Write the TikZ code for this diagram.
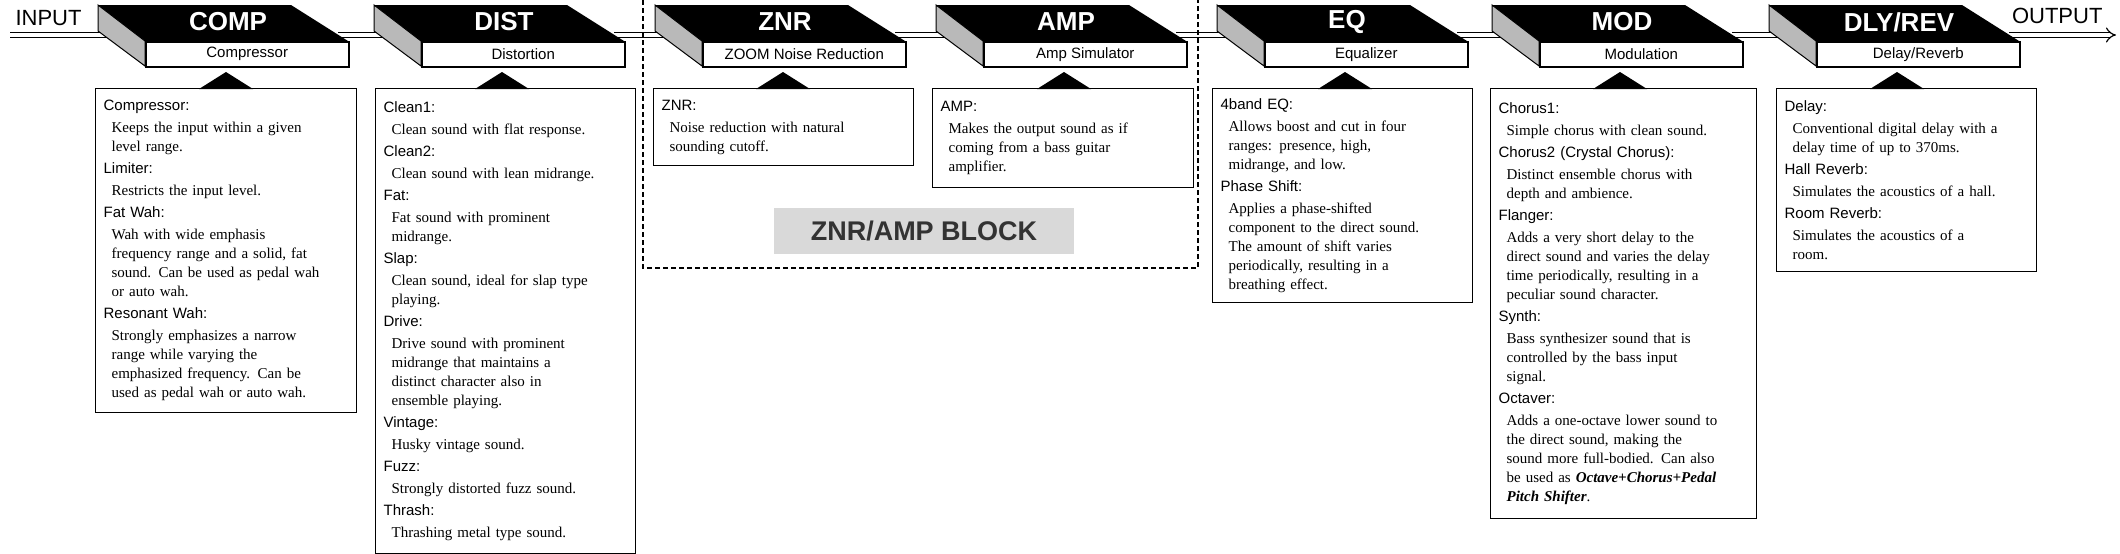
\documentclass[tikz,border=0pt]{standalone}
\usepackage{fontspec}
\setmainfont{Liberation Serif}
\setsansfont{Liberation Sans}
\usetikzlibrary{arrows.meta}

\newcommand{\hd}[1]{{\sffamily\fontsize{15}{19}\selectfont #1\par}\vspace{3pt}}
\newcommand{\bd}[1]{{\leftskip=8pt #1\par}\vspace{3pt}}

\begin{document}
\begin{tikzpicture}[x=1pt, y=-1pt,
    top/.style={fill=black},
    side/.style={fill=gray!55, draw=black, line width=1pt},
    sub/.style={draw, fill=white, line width=1.5pt, minimum width=203pt,
        minimum height=25pt, anchor=north west, inner sep=0pt,
        font=\sffamily\fontsize{15}{16}\selectfont},
    title/.style={text=white, font=\sffamily\bfseries\fontsize{26}{28}\selectfont},
    info/.style={draw, line width=1.2pt, anchor=north west, align=left,
        inner xsep=8pt, inner ysep=7pt,
        font=\rmfamily\fontsize{15}{19}\selectfont},
    flow/.style={double=white, double distance=4pt, line width=1.2pt,
        -{Implies[length=10pt]}},
    io/.style={font=\sffamily\fontsize{22}{24}\selectfont}
]
\useasboundingbox (0,0) rectangle (2120,554);

%%%%%%%%%%%%%%%%%%%%%%%%
% Connectors
%%%%%%%%%%%%%%%%%%%%%%%%
\foreach \n/\x in {comp/98, dist/374, znr/655, amp/936, eq/1217, mod/1492, dly/1769}{
    \coordinate (\n-in) at (\x+30,35);
    \coordinate (\n-out) at (\x+240,35);
}
\coordinate (in) at (10,35);
\coordinate (out) at (2116,35);

\draw[flow] (in) -- (comp-in);
\draw[flow] (comp-out) -- (dist-in);
\draw[flow] (dist-out) -- (znr-in);
\draw[flow] (znr-out) -- (amp-in);
\draw[flow] (amp-out) -- (eq-in);
\draw[flow] (eq-out) -- (mod-in);
\draw[flow] (mod-out) -- (dly-in);
\draw[flow] (dly-out) -- (out);

\node[io, anchor=south west] (input) at (12,29) {INPUT};
\node[io, anchor=south east] (output) at (2106,27) {OUTPUT};

%%%%%%%%%%%%%%%%%%%%%%%%
% Effect blocks
%%%%%%%%%%%%%%%%%%%%%%%%
\foreach \n/\x/\t/\s in {comp/98/COMP/Compressor, dist/374/DIST/Distortion,
    znr/655/ZNR/ZOOM Noise Reduction, amp/936/AMP/Amp Simulator,
    eq/1217/EQ/Equalizer, mod/1492/MOD/Modulation, dly/1769/DLY\slash REV/Delay\slash Reverb}{
    \fill[top] (\x,5) -- (\x+193,5) -- (\x+250,41) -- (\x+47,41) -- cycle;
    \draw[side] (\x,5) -- (\x+47,41) -- (\x+47,66) -- (\x,31) -- cycle;
    \node[sub] (\n-sub) at (\x+47,41) {\s};
    \node[title] (\n-title) at (\x+130,22) {\t};
}

%%%%%%%%%%%%%%%%%%%%%%%%
% ZNR/AMP group
%%%%%%%%%%%%%%%%%%%%%%%%
\draw[line width=2pt, dash pattern=on 5pt off 3pt] (643,0) -- (643,268) -- (1198,268) -- (1198,0);
\node[fill=gray!30, text=black!80, minimum width=300pt, minimum height=46pt,
      font=\sffamily\bfseries\fontsize{27}{28}\selectfont] (grp) at (924,231) {ZNR/AMP BLOCK};

%%%%%%%%%%%%%%%%%%%%%%%%
% Descriptions
%%%%%%%%%%%%%%%%%%%%%%%%
\node[info, minimum width=261pt, minimum height=324pt, text width=245pt] (comp-info) at (95,88) {%
\hd{Compressor:}
\bd{Keeps the input within a given\\level range.}
\hd{Limiter:}
\bd{Restricts the input level.}
\hd{Fat Wah:}
\bd{Wah with wide emphasis\\frequency range and a solid, fat\\sound. Can be used as pedal wah\\or auto wah.}
\hd{Resonant Wah:}
\bd{Strongly emphasizes a narrow\\range while varying the\\emphasized frequency. Can be\\used as pedal wah or auto wah.}};

\node[info, minimum width=260pt, minimum height=465pt, text width=244pt] (dist-info) at (375,88) {%
\hd{Clean1:}
\bd{Clean sound with flat response.}
\hd{Clean2:}
\bd{Clean sound with lean midrange.}
\hd{Fat:}
\bd{Fat sound with prominent\\midrange.}
\hd{Slap:}
\bd{Clean sound, ideal for slap type\\playing.}
\hd{Drive:}
\bd{Drive sound with prominent\\midrange that maintains a\\distinct character also in\\ensemble playing.}
\hd{Vintage:}
\bd{Husky vintage sound.}
\hd{Fuzz:}
\bd{Strongly distorted fuzz sound.}
\hd{Thrash:}
\bd{Thrashing metal type sound.}};

\node[info, minimum width=260pt, minimum height=77pt, text width=244pt] (znr-info) at (653,88) {%
\hd{ZNR:}
\bd{Noise reduction with natural\\sounding cutoff.}};

\node[info, minimum width=261pt, minimum height=99pt, text width=245pt] (amp-info) at (932,88) {%
\hd{AMP:}
\bd{Makes the output sound as if\\coming from a  bass guitar\\amplifier.}};

\node[info, minimum width=260pt, minimum height=214pt, text width=244pt] (eq-info) at (1212,88) {%
\hd{4band EQ:}
\bd{Allows boost and cut in four\\ranges: presence, high,\\midrange, and low.}
\hd{Phase Shift:}
\bd{Applies a phase-shifted\\component to the direct sound.\\The amount of shift varies\\periodically, resulting in a\\breathing effect.}};

\node[info, minimum width=266pt, minimum height=430pt, text width=250pt] (mod-info) at (1490,88) {%
\hd{Chorus1:}
\bd{Simple chorus with clean sound.}
\hd{Chorus2 (Crystal Chorus):}
\bd{Distinct ensemble chorus with\\depth and ambience.}
\hd{Flanger:}
\bd{Adds a very short delay to the\\direct sound and varies the delay\\time periodically, resulting in a\\peculiar sound character.}
\hd{Synth:}
\bd{Bass synthesizer sound that is\\controlled by the bass input\\signal.}
\hd{Octaver:}
\bd{Adds a one-octave lower sound to\\the direct sound, making the\\sound more full-bodied. Can also\\be used as \textbf{\textit{Octave+Chorus+Pedal}}\\\textbf{\textit{Pitch Shifter}}.}};

\node[info, minimum width=260pt, minimum height=183pt, text width=244pt] (dly-info) at (1776,88) {%
\hd{Delay:}
\bd{Conventional digital delay with a\\delay time of up to 370ms.}
\hd{Hall Reverb:}
\bd{Simulates the acoustics of a hall.}
\hd{Room Reverb:}
\bd{Simulates the acoustics of a\\room.}};

% pointers from the blocks
\foreach \x in {98, 374, 655, 936, 1217, 1492, 1769}
    \fill (\x+101,89) -- (\x+128,72) -- (\x+155,89) -- cycle;

\end{tikzpicture}
\end{document}
